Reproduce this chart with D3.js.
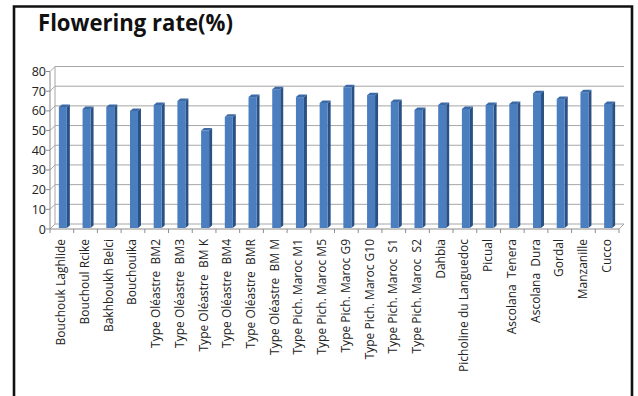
<!DOCTYPE html>
<html>
<head>
<meta charset="utf-8">
<script src="https://cdn.jsdelivr.net/npm/d3@7"></script>
<style>
  html, body { margin: 0; padding: 0; background: #fff; }
  svg { display: block; }
</style>
</head>
<body>
<svg id="chart" width="638" height="396"></svg>
<script>
// Cultivars / types and their flowering rate (%)
const categories = [
  "Bouchouk Laghlide", "Bouchoul Rcike", "Bakhboukh Belci", "Bouchouika",
  "Type Oléastre  BM2", "Type Oléastre  BM3", "Type Oléastre  BM K", "Type Oléastre  BM4",
  "Type Oléastre  BMR", "Type Oléastre  BM M", "Type Pich. Maroc M1", "Type Pich. Maroc M5",
  "Type Pich. Maroc G9", "Type Pich. Maroc G10", "Type Pich. Maroc  S1", "Type Pich. Maroc  S2",
  "Dahbia", "Picholine du Languedoc", "Picual", "Ascolana  Tenera",
  "Ascolana  Dura", "Gordal", "Manzanille", "Cucco"
];
const floweringRate = [
  62, 61, 62, 60, 63, 65, 50, 57, 67, 71, 67, 64,
  72, 68, 64.5, 60.5, 63, 61, 63, 63.5, 69, 66, 69.5, 63.5
];
const yTicks = [0, 10, 20, 30, 40, 50, 60, 70, 80];
const title = "Flowering rate(%)";

const svg = d3.select("#chart");
const font = "'Open Sans', 'Liberation Sans', sans-serif";

// front plane of the pseudo-3D plot and depth offset of the back wall
const plotL = 50, plotR = 619, plotT = 71.5, plotB = 229;
const dx = 5, dy = -5;

const x = d3.scaleBand().domain(categories).range([plotL, plotR]);
const y = d3.scaleLinear().domain([0, 80]).range([plotB, plotT]);

// outer frame
svg.append("path")
  .attr("d", "M14,400 L14,6.5 L632,6.5 L632,400")
  .attr("fill", "none").attr("stroke", "#111").attr("stroke-width", 2.6);

// title
svg.append("text")
  .attr("x", 38).attr("y", 31)
  .attr("font-family", font).attr("font-weight", "bold")
  .attr("font-size", 24).attr("fill", "#111")
  .attr("textLength", 195).attr("lengthAdjust", "spacingAndGlyphs")
  .text(title);

const grid = svg.append("g").attr("stroke", "#a6a6a6").attr("stroke-width", 1).attr("fill", "none");
// gridlines on back wall + side wall
yTicks.forEach(t => {
  const yy = y(t);
  grid.append("path").attr("d",
    `M${plotL},${yy} L${plotL + dx},${yy + dy} L${plotR + dx},${yy + dy}`);
});
// side wall back edge and floor
grid.append("path").attr("d", `M${plotL + dx},${y(80) + dy} L${plotL + dx},${y(0) + dy}`);
grid.append("path").attr("d", `M${plotR},${plotB} L${plotR + dx},${plotB + dy}`);

// bars drawn as 3D columns
const bars = svg.append("g");
const fw = 8, sw = 3, sh = 2.5;
categories.forEach((c, i) => {
  const v = floweringRate[i];
  const cx = x(c) + x.bandwidth() / 2 + 1;
  const x0 = cx - fw / 2, x1 = cx + fw / 2;
  const yt = y(v), yb = plotB + dy / 2 + 1.5;
  // side face
  bars.append("path")
    .attr("d", `M${x1},${yb} L${x1 + sw},${yb - sh} L${x1 + sw},${yt - sh} L${x1},${yt} Z`)
    .attr("fill", "#2a5184");
  // front face
  bars.append("rect")
    .attr("x", x0).attr("y", yt).attr("width", fw).attr("height", yb - yt)
    .attr("fill", "#4a7ebf");
  // top face
  bars.append("path")
    .attr("d", `M${x0},${yt} L${x0 + sw},${yt - sh} L${x1 + sw},${yt - sh} L${x1},${yt} Z`)
    .attr("fill", "#3c6aa6");
});

// front axes
const axes = svg.append("g").attr("stroke", "#8c8c8c").attr("stroke-width", 1).attr("fill", "none");
axes.append("path").attr("d", `M${plotL},${plotT} L${plotL},${plotB} L${plotR},${plotB}`);
yTicks.forEach(t => {
  axes.append("path").attr("d", `M${plotL - 4},${y(t)} L${plotL},${y(t)}`);
});
categories.forEach(c => {
  axes.append("path").attr("d", `M${x(c)},${plotB} L${x(c)},${plotB + 4}`);
});
axes.append("path").attr("d", `M${plotR},${plotB} L${plotR},${plotB + 4}`);

// y tick labels
svg.append("g").selectAll("text").data(yTicks).join("text")
  .attr("x", 46).attr("y", d => y(d) + 4.5)
  .attr("text-anchor", "end")
  .attr("font-family", font).attr("font-size", 12.5).attr("fill", "#222")
  .text(d => d);

// category labels, rotated
svg.append("g").selectAll("text").data(categories).join("text")
  .attr("transform", d => `translate(${x(d) + x.bandwidth() / 2 + 3.5},239) rotate(-90)`)
  .attr("text-anchor", "end")
  .attr("font-family", font).attr("font-size", 12).attr("fill", "#222")
  .style("white-space", "pre")
  .text(d => d);
</script>
</body>
</html>
